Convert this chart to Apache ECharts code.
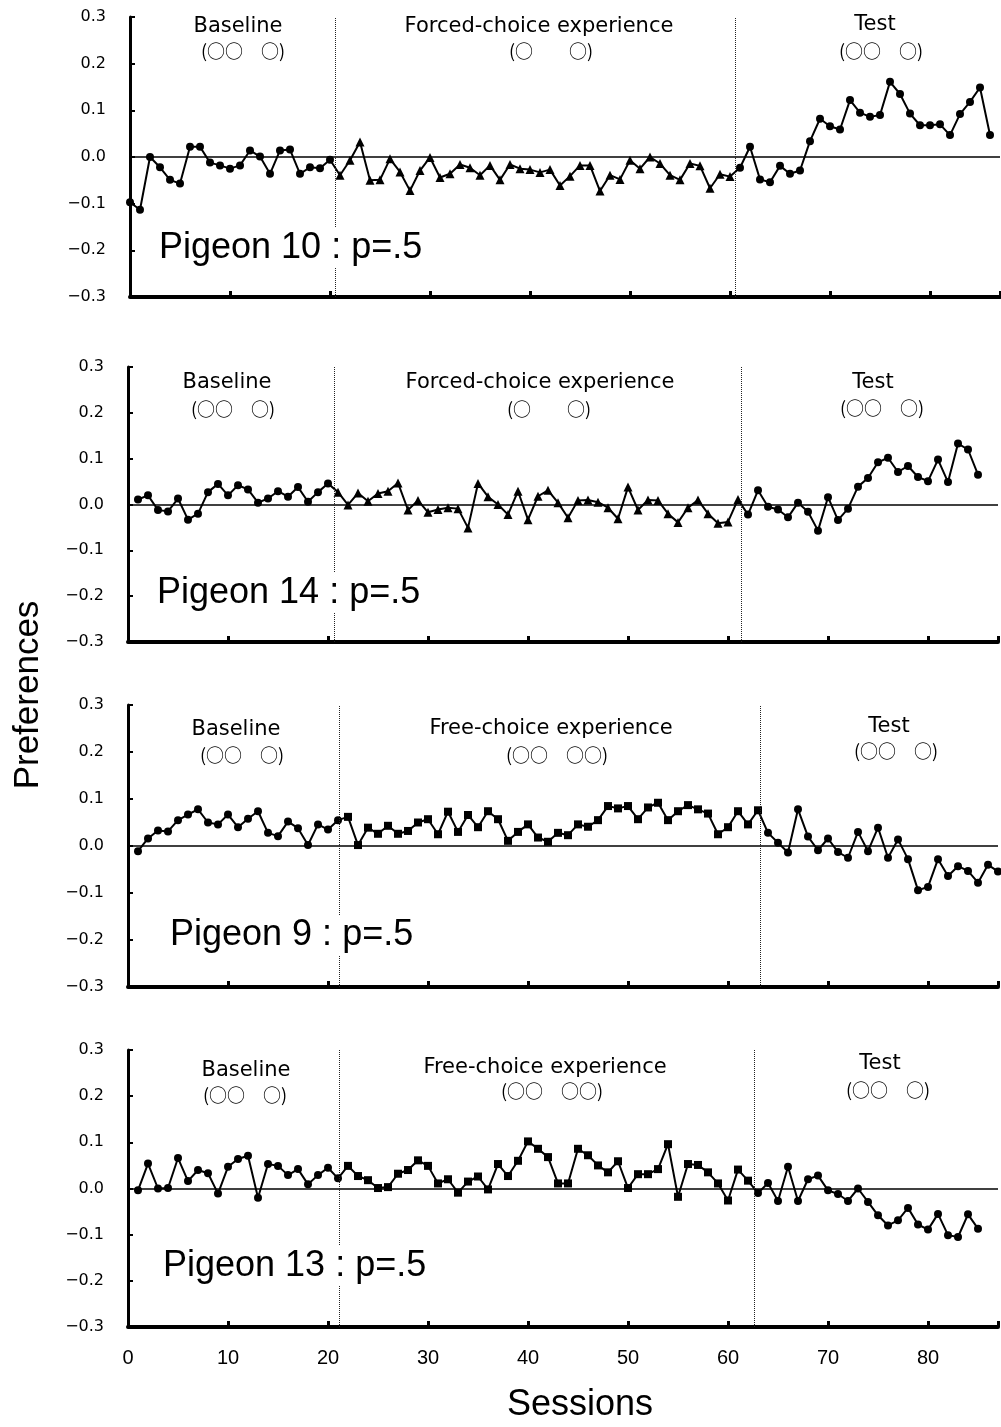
<!DOCTYPE html>
<html>
<head>
<meta charset="utf-8">
<title>Preferences by session</title>
<script src="https://cdn.jsdelivr.net/npm/echarts@6/dist/echarts.min.js"></script>
<style>
  html, body {margin: 0; padding: 0; background: #fff;}
  #chart {width: 1001px; height: 1427px;}
</style>
</head>
<body>
<div id="chart"></div>
<script>
// x axis: sessions, y axis: preference
var sessionLabels = [0, 10, 20, 30, 40, 50, 60, 70, 80];
var prefLabels = [-0.3, -0.2, -0.1, 0.0, 0.1, 0.2, 0.3];

// Pigeon 10 : baseline from session 0, forced-choice from 21, test from 61
var p10Start = 0;
var p10Base = [-0.097, -0.113, 0.0, -0.022, -0.049, -0.057, 0.022, 0.022, -0.012, -0.018, -0.025,
  -0.018, 0.014, 0.001, -0.036, 0.014, 0.016, -0.036, -0.022, -0.024, -0.006];
var p10Forced = [-0.039, -0.007, 0.032, -0.05, -0.049, -0.004, -0.032, -0.072, -0.029, -0.001,
  -0.044, -0.036, -0.016, -0.023, -0.039, -0.018, -0.049, -0.016, -0.025, -0.027,
  -0.033, -0.027, -0.061, -0.041, -0.018, -0.018, -0.073, -0.039, -0.048, -0.007,
  -0.025, 0.0, -0.014, -0.039, -0.049, -0.014, -0.019, -0.067, -0.037, -0.042];
var p10Test = [-0.023, 0.022, -0.048, -0.054, -0.019, -0.036, -0.029, 0.034, 0.082, 0.066,
  0.059, 0.122, 0.095, 0.086, 0.09, 0.161, 0.135, 0.093, 0.068, 0.068, 0.07, 0.047, 0.092,
  0.118, 0.149, 0.047];
var p10Dividers = [20.5, 60.5];

// Pigeon 14 : baseline from session 1, forced-choice from 21, test from 62
var p14Start = 1;
var p14Base = [0.011, 0.02, -0.012, -0.015, 0.013, -0.033, -0.02, 0.027, 0.045, 0.02, 0.042,
  0.033, 0.004, 0.013, 0.029, 0.017, 0.038, 0.006, 0.027, 0.046];
var p14Forced = [0.027, -0.001, 0.025, 0.007, 0.024, 0.029, 0.047, -0.012, 0.009, -0.017,
  -0.011, -0.007, -0.009, -0.051, 0.046, 0.017, 0.0, -0.022, 0.029, -0.033,
  0.018, 0.031, 0.004, -0.029, 0.009, 0.01, 0.005, -0.007, -0.031, 0.038, -0.012,
  0.01, 0.009, -0.02, -0.039, -0.007, 0.01, -0.02, -0.041, -0.038, 0.011];
var p14Test = [-0.022, 0.031, -0.005, -0.011, -0.028, 0.004, -0.016, -0.057, 0.016, -0.034,
  -0.009, 0.039, 0.058, 0.092, 0.102, 0.071, 0.084, 0.06, 0.051, 0.098, 0.049, 0.133, 0.12,
  0.065];
var p14Dividers = [20.6, 61.3];

// Pigeon 9 : baseline from session 1, free-choice from 22, test from 64
var p9Start = 1;
var p9Base = [-0.011, 0.016, 0.033, 0.031, 0.055, 0.067, 0.078, 0.05, 0.046, 0.067, 0.04,
  0.058, 0.074, 0.028, 0.021, 0.052, 0.038, 0.002, 0.046, 0.035, 0.055];
var p9Free = [0.062, 0.002, 0.039, 0.026, 0.043, 0.026, 0.032, 0.05, 0.057, 0.025, 0.073,
  0.03, 0.066, 0.04, 0.074, 0.057, 0.011, 0.03, 0.046, 0.018, 0.009, 0.028,
  0.023, 0.046, 0.041, 0.055, 0.085, 0.08, 0.085, 0.057, 0.082, 0.092, 0.055, 0.074,
  0.087, 0.078, 0.069, 0.025, 0.04, 0.074, 0.046, 0.076];
var p9Test = [0.028, 0.007, -0.014, 0.078, 0.02, -0.009, 0.016, -0.013, -0.025, 0.03, -0.011,
  0.039, -0.025, 0.014, -0.028, -0.094, -0.087, -0.028, -0.064, -0.043, -0.053, -0.078,
  -0.04, -0.054];
var p9Dividers = [21.1, 63.2];

// Pigeon 13 : baseline from session 1, free-choice from 22, test from 63
var p13Start = 1;
var p13Base = [-0.004, 0.054, 0.0, 0.001, 0.066, 0.016, 0.04, 0.033, -0.011, 0.047, 0.064,
  0.071, -0.02, 0.053, 0.049, 0.029, 0.042, 0.009, 0.029, 0.045, 0.022];
var p13Free = [0.049, 0.027, 0.018, 0.001, 0.003, 0.032, 0.04, 0.061, 0.049, 0.011, 0.02,
  -0.009, 0.015, 0.026, -0.002, 0.053, 0.027, 0.06, 0.102,
  0.086, 0.068, 0.011, 0.011, 0.086, 0.072, 0.05, 0.035, 0.059, 0.001, 0.031, 0.031,
  0.042, 0.096, -0.018, 0.053, 0.051, 0.035, 0.011, -0.026, 0.041, 0.017];
var p13Test = [-0.01, 0.012, -0.027, 0.047, -0.027, 0.02, 0.028, -0.004, -0.012, -0.027, 0.0,
  -0.029, -0.058, -0.08, -0.069, -0.042, -0.078, -0.089, -0.055, -0.101, -0.105, -0.056,
  -0.087];
var p13Dividers = [21.1, 62.6];

// texts
var pigeonNames = ['Pigeon 10 : p=.5', 'Pigeon 14 : p=.5', 'Pigeon 9 : p=.5', 'Pigeon 13 : p=.5'];
var phaseNames = [
  ['Baseline', 'Forced-choice experience', 'Test'],
  ['Baseline', 'Forced-choice experience', 'Test'],
  ['Baseline', 'Free-choice experience', 'Test'],
  ['Baseline', 'Free-choice experience', 'Test']
];
var phaseKeys = [
  ['(○○　○)', '(○　　○)', '(○○　○)'],
  ['(○○　○)', '(○　　○)', '(○○　○)'],
  ['(○○　○)', '(○○　○○)', '(○○　○)'],
  ['(○○　○)', '(○○　○○)', '(○○　○)']
];

// layout of the four panels (pixels)
var panels = [
  {left: 130, top: 17, height: 280, start: p10Start, phases: [[p10Base, 'circle'], [p10Forced, 'triangle'], [p10Test, 'circle']], dividers: p10Dividers,
    nameX: 157, nameY: 248, words: [[238, 27], [539, 27], [875, 25]], keys: [[243, 51], [551, 51], [881, 51]]},
  {left: 128, top: 367, height: 275, start: p14Start, phases: [[p14Base, 'circle'], [p14Forced, 'triangle'], [p14Test, 'circle']], dividers: p14Dividers,
    nameX: 155, nameY: 593, words: [[227, 383], [540, 383], [873, 383]], keys: [[233, 409], [549, 409], [882, 408]]},
  {left: 128, top: 705, height: 282, start: p9Start, phases: [[p9Base, 'circle'], [p9Free, 'rect'], [p9Test, 'circle']], dividers: p9Dividers,
    nameX: 168, nameY: 935, words: [[236, 730], [551, 729], [889, 727]], keys: [[242, 755], [557, 755], [896, 751]]},
  {left: 128, top: 1050, height: 277, start: p13Start, phases: [[p13Base, 'circle'], [p13Free, 'rect'], [p13Test, 'circle']], dividers: p13Dividers,
    nameX: 161, nameY: 1266, words: [[246, 1071], [545, 1068], [880, 1064]], keys: [[245, 1095], [552, 1091], [888, 1090]]}
];

function fmtPref(v) {
  if (Math.abs(v) < 1e-9) return '0.0';
  return v < 0 ? '\u2212' + Math.abs(v).toFixed(1) : v.toFixed(1);
}

function buildData(start, phases) {
  var out = [];
  var s = start;
  phases.forEach(function (ph) {
    ph[0].forEach(function (v) {
      out.push({value: [s, v], symbol: ph[1], symbolSize: ph[1] === 'triangle' ? 9 : 8});
      s++;
    });
  });
  return out;
}

var chart = echarts.init(document.getElementById('chart'));

var grids = [], xAxes = [], yAxes = [], series = [], graphics = [];

panels.forEach(function (p, i) {
  grids.push({left: p.left, top: p.top, width: 870, height: p.height});
  xAxes.push({
    gridIndex: i, type: 'value', min: 0, max: 87, interval: 10,
    axisLine: {onZero: false, lineStyle: {color: '#000', width: 4}},
    axisTick: {inside: true, length: 6, lineStyle: {color: '#000', width: 3}},
    axisLabel: {
      show: i === 3, color: '#000', fontSize: 20, margin: 21,
      fontFamily: '"Liberation Sans", Arial, sans-serif',
      formatter: function (v) { return sessionLabels.indexOf(v) >= 0 ? String(v) : ''; }
    },
    splitLine: {show: false}
  });
  yAxes.push({
    gridIndex: i, type: 'value', min: -0.3, max: 0.3, interval: 0.1,
    axisLine: {show: true, onZero: false, lineStyle: {color: '#000', width: 3}},
    axisTick: {show: true, inside: true, length: 5, lineStyle: {color: '#000', width: 2}},
    axisLabel: {color: '#000', fontSize: 16, fontFamily: '"DejaVu Sans", sans-serif', margin: 24, formatter: fmtPref},
    splitLine: {show: false}
  });

  var marks = [{yAxis: 0, lineStyle: {type: 'solid', width: 1.5, color: '#000'}}];
  p.dividers.forEach(function (d) {
    marks.push({xAxis: d, lineStyle: {type: 'dotted', width: 1, color: '#222'}});
  });

  series.push({
    type: 'line',
    xAxisIndex: i,
    yAxisIndex: i,
    data: buildData(p.start, p.phases),
    clip: false,
    lineStyle: {color: '#000', width: 2},
    itemStyle: {color: '#000'},
    emphasis: {disabled: true},
    markLine: {silent: true, symbol: ['none', 'none'], label: {show: false}, data: marks}
  });

  // phase names and key lines
  for (var k = 0; k < 3; k++) {
    graphics.push({
      type: 'text', x: p.words[k][0], y: p.words[k][1], z: 50,
      style: {text: phaseNames[i][k], fill: '#000', font: '21px "DejaVu Sans", sans-serif', textAlign: 'center', textVerticalAlign: 'middle'}
    });
    graphics.push({
      type: 'text', x: p.keys[k][0], y: p.keys[k][1], z: 50,
      style: {text: phaseKeys[i][k], fill: '#000', font: '18px "Noto Sans CJK JP", sans-serif', textAlign: 'center', textVerticalAlign: 'middle'}
    });
  }
  // pigeon name, white box hides the dotted line behind it
  graphics.push({
    type: 'text', x: p.nameX, y: p.nameY, z: 100,
    style: {
      text: pigeonNames[i], fill: '#000', font: '36px "Liberation Sans", Arial, sans-serif',
      textAlign: 'left', textVerticalAlign: 'middle', backgroundColor: '#fff', padding: [2, 2]
    }
  });
});

graphics.push({
  type: 'text', x: 580, y: 1405, z: 50,
  style: {text: 'Sessions', fill: '#000', font: '36px "Liberation Sans", Arial, sans-serif', textAlign: 'center', textVerticalAlign: 'middle'}
});
graphics.push({
  type: 'text', x: 28, y: 695, z: 50, rotation: Math.PI / 2,
  style: {text: 'Preferences', fill: '#000', font: '35px "Liberation Sans", Arial, sans-serif', textAlign: 'center', textVerticalAlign: 'middle'}
});

chart.setOption({
  animation: false,
  backgroundColor: '#fff',
  grid: grids,
  xAxis: xAxes,
  yAxis: yAxes,
  series: series,
  graphic: graphics
});
</script>
</body>
</html>
